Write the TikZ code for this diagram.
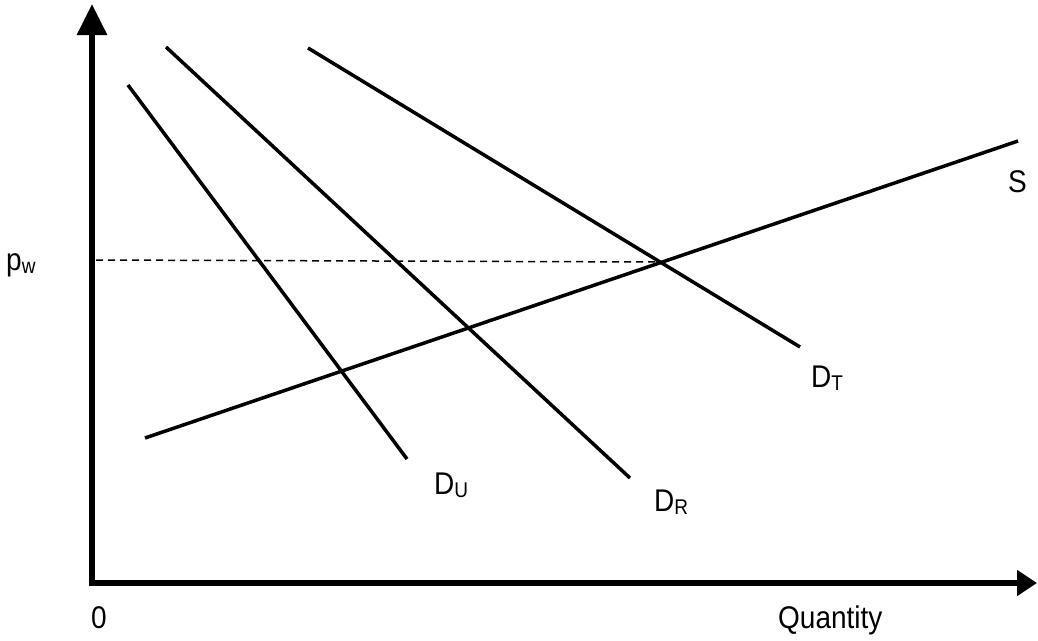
\documentclass[tikz,border=0pt]{standalone}
\usepackage{fontspec}
\setmainfont{Liberation Sans}
\usetikzlibrary{arrows.meta}
\newcommand{\mysub}[1]{\raisebox{-3.5pt}{\fontsize{19}{19}\selectfont #1}}
\newcommand{\mytxt}[1]{\scalebox{1}[1.12]{#1}}
\begin{document}
\begin{tikzpicture}[x=1pt,y=-1pt,
  lbl/.style={font=\fontsize{28}{30}\selectfont, inner sep=0pt, anchor=base west},
  curve/.style={line width=3.5pt},
  axis/.style={line width=6pt}]
\useasboundingbox (0,0) rectangle (1038,640);
% axes
\coordinate (O) at (92,583);
\coordinate (Ytop) at (92,4);
\coordinate (Xend) at (1037,583);
\draw[axis,-{Triangle[length=31pt,width=29pt]}] (92,586) -- (Ytop);
\draw[axis,-{Triangle[length=20pt,width=25pt]}] (89,583) -- (Xend);
% curves
\coordinate (S1) at (145,438); \coordinate (S2) at (1018,141);
\coordinate (U1) at (128,85);  \coordinate (U2) at (407,459);
\coordinate (R1) at (166,47);  \coordinate (R2) at (630,478);
\coordinate (T1) at (308,48);  \coordinate (T2) at (800,347);
\coordinate (P1) at (96,260);  \coordinate (P2) at (657,262);
\draw[dash pattern=on 7pt off 5pt, line width=1.5pt] (P1) -- (P2);
\draw[curve] (S1) -- (S2);
\draw[curve] (U1) -- (U2);
\draw[curve] (R1) -- (R2);
\draw[curve] (T1) -- (T2);
% labels
\node[lbl] (zero) at (91,628) {\mytxt{0}};
\node[lbl] (qty) at (778,628) {\mytxt{Quantity}};
\node[lbl] (pw) at (6,270) {\mytxt{p\mysub{w}}};
\node[lbl] (sl) at (1008,192) {\mytxt{S}};
\node[lbl] (dt) at (811,387) {\mytxt{D\mysub{T}}};
\node[lbl] (du) at (434,494) {\mytxt{D\mysub{U}}};
\node[lbl] (dr) at (654,511) {\mytxt{D\mysub{R}}};
\end{tikzpicture}
\end{document}
